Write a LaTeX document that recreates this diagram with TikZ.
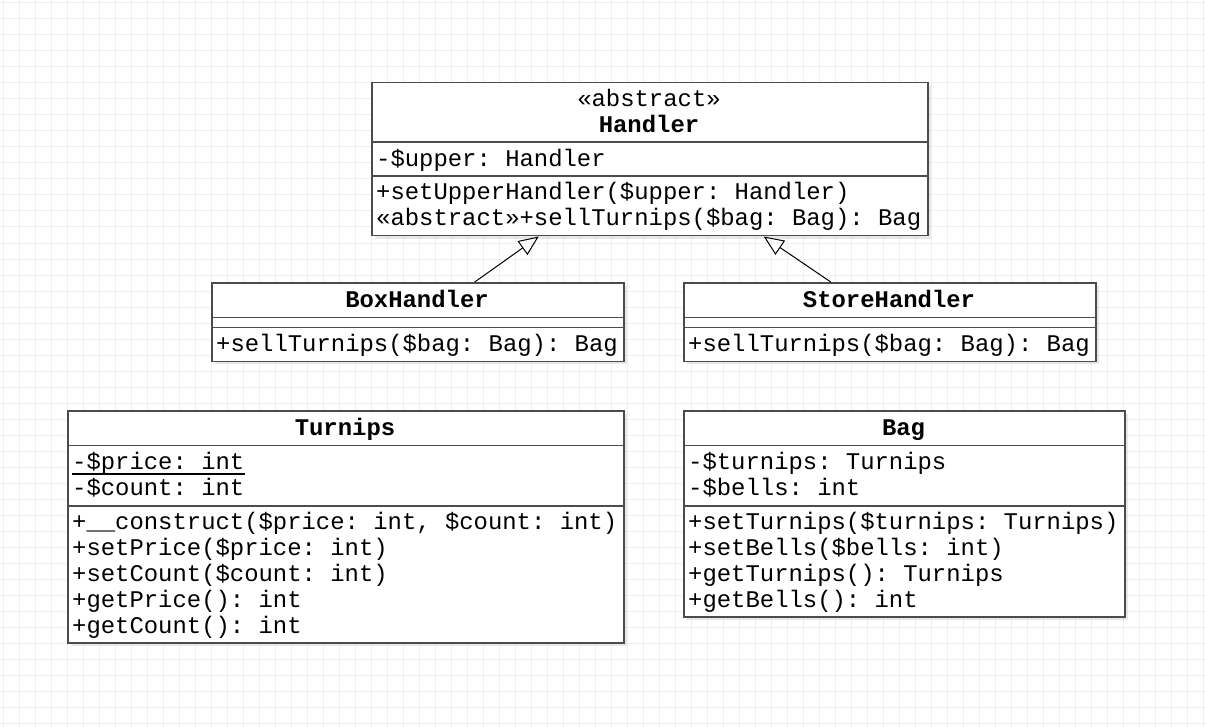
\documentclass[tikz,border=0pt]{standalone}
\usepackage{fontspec}
\setmonofont{Liberation Mono}
\usepackage{tikz}
\usetikzlibrary{calc}
\usetikzlibrary{arrows.meta}
\usetikzlibrary{shadows}

\newcommand{\umlfont}{\fontsize{23.9pt}{26pt}\selectfont\ttfamily\frenchspacing}

\tikzset{
  gridline/.style={draw=black!6, line width=1pt},
  classbox/.style={draw=black!70, line width=1.5pt, fill=white, inner sep=0pt, anchor=north west,
    drop shadow={shadow xshift=3pt, shadow yshift=-3pt, fill=black, opacity=0.09}},
  divider/.style={draw=black!70, line width=1.5pt},
  classname/.style={anchor=base, inner sep=0pt, font=\umlfont\bfseries},
  member/.style={anchor=base west, inner sep=0pt, font=\umlfont},
  inherit/.style={draw=black, line width=1pt, -{Triangle[open, length=20pt, width=17pt]}}
}

\begin{document}
\begin{tikzpicture}[x=1pt,y=-1pt]
        \useasboundingbox (0,0) rectangle (1206,727);
        % grid
        \foreach \gx in {3,19,...,1203} \draw[gridline] (\gx,0) -- (\gx,727);
        \foreach \gy in {3,19,...,723} \draw[gridline] (0,\gy) -- (1206,\gy);

        % Handler
        \node[classbox, minimum width=556pt, minimum height=153pt] (handler) at (371,82) {};
        \draw[divider] ([yshift=-60pt]handler.north west) -- ([yshift=-60pt]handler.north east);
        \draw[divider] ([yshift=-94pt]handler.north west) -- ([yshift=-94pt]handler.north east);
        \node[anchor=base, inner sep=0pt, font=\umlfont] (handlerstereo) at (649,106.5) {«abstract»};
        \node[classname] (handlername) at (649,132.5) {Handler};
        \node[member] (handlerupper) at (376,166.5) {-\$upper: Handler};
        \node[member] (handlersetupper) at (376,199.5) {+setUpperHandler(\$upper: Handler)};
        \node[member] (handlersell) at (376,225.5) {«abstract»+sellTurnips(\$bag: Bag): Bag};

        % BoxHandler
        \node[classbox, minimum width=412pt, minimum height=78.5pt] (boxhandler) at (211,282) {};
        \draw[divider] ([yshift=-35.5pt]boxhandler.north west) -- ([yshift=-35.5pt]boxhandler.north east);
        \draw[divider] ([yshift=-45.5pt]boxhandler.north west) -- ([yshift=-45.5pt]boxhandler.north east);
        \node[classname] (boxhandlername) at (417,307.5) {BoxHandler};
        \node[member] (boxhandlersell) at (216,351.7) {+sellTurnips(\$bag: Bag): Bag};

        % StoreHandler
        \node[classbox, minimum width=412pt, minimum height=78.5pt] (storehandler) at (683,282) {};
        \draw[divider] ([yshift=-35.5pt]storehandler.north west) -- ([yshift=-35.5pt]storehandler.north east);
        \draw[divider] ([yshift=-45.5pt]storehandler.north west) -- ([yshift=-45.5pt]storehandler.north east);
        \node[classname] (storehandlername) at (889,307.5) {StoreHandler};
        \node[member] (storehandlersell) at (688,351.7) {+sellTurnips(\$bag: Bag): Bag};

        % inheritance
        \draw[inherit] ([xshift=57pt]boxhandler.north) -- ([xshift=-111pt]handler.south);
        \draw[inherit] ([xshift=-59pt]storehandler.north) -- ([xshift=114pt]handler.south);

        % Turnips
        \node[classbox, minimum width=556pt, minimum height=232pt] (turnips) at (67,410) {};
        \draw[divider] ([yshift=-35.5pt]turnips.north west) -- ([yshift=-35.5pt]turnips.north east);
        \draw[divider] ([yshift=-96pt]turnips.north west) -- ([yshift=-96pt]turnips.north east);
        \node[classname] (turnipsname) at (345,435.5) {Turnips};
        % attributes
        \node[member] (turnipsprice) at (72,469) {-\$price: int};
        \draw[line width=1.3pt] ([yshift=-5pt]turnipsprice.base west) -- ([yshift=-5pt]turnipsprice.base east);
        \node[member] (turnipscount) at (72,495) {-\$count: int};
        % methods
        \node[member] (turnipsconstruct) at (72,529.5) {+\_\_construct(\$price: int, \$count: int)};
        \node[member] (turnipssetprice) at (72,555.5) {+setPrice(\$price: int)};
        \node[member] (turnipssetcount) at (72,581.5) {+setCount(\$count: int)};
        \node[member] (turnipsgetprice) at (72,607.5) {+getPrice(): int};
        \node[member] (turnipsgetcount) at (72,633.5) {+getCount(): int};

        % Bag
        \node[classbox, minimum width=441pt, minimum height=206pt] (bag) at (683,410) {};
        \draw[divider] ([yshift=-35.5pt]bag.north west) -- ([yshift=-35.5pt]bag.north east);
        \draw[divider] ([yshift=-96pt]bag.north west) -- ([yshift=-96pt]bag.north east);
        \node[classname] (bagname) at (903.5,435.5) {Bag};
        % attributes
        \node[member] (bagturnips) at (688,469) {-\$turnips: Turnips};
        \node[member] (bagbells) at (688,495) {-\$bells: int};
        % methods
        \node[member] (bagsetturnips) at (688,529.5) {+setTurnips(\$turnips: Turnips)};
        \node[member] (bagsetbells) at (688,555.5) {+setBells(\$bells: int)};
        \node[member] (baggetturnips) at (688,581.5) {+getTurnips(): Turnips};
        \node[member] (baggetbells) at (688,607.5) {+getBells(): int};
\end{tikzpicture}
\end{document}
